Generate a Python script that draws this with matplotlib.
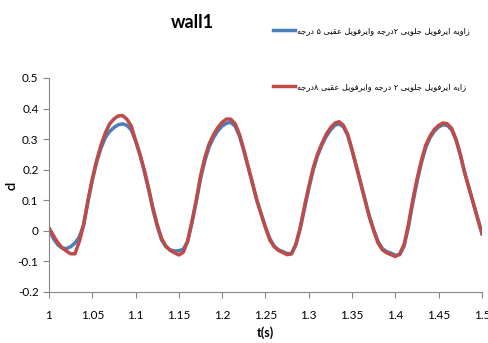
import matplotlib
matplotlib.use("Agg")
import matplotlib.pyplot as plt
import numpy as np

# time axis (s)
t = [1.000, 1.005, 1.010, 1.015, 1.020, 1.025, 1.030, 1.035, 1.040, 1.045,
     1.050, 1.055, 1.060, 1.065, 1.070, 1.075, 1.080, 1.085, 1.090, 1.095,
     1.100, 1.105, 1.110, 1.115, 1.120, 1.125, 1.130, 1.135, 1.140, 1.145,
     1.150, 1.155, 1.160, 1.165, 1.170, 1.175, 1.180, 1.185, 1.190, 1.195,
     1.200, 1.205, 1.210, 1.215, 1.220, 1.225, 1.230, 1.235, 1.240, 1.245,
     1.250, 1.255, 1.260, 1.265, 1.270, 1.275, 1.280, 1.285, 1.290, 1.295,
     1.300, 1.305, 1.310, 1.315, 1.320, 1.325, 1.330, 1.335, 1.340, 1.345,
     1.350, 1.355, 1.360, 1.365, 1.370, 1.375, 1.380, 1.385, 1.390, 1.395,
     1.400, 1.405, 1.410, 1.415, 1.420, 1.425, 1.430, 1.435, 1.440, 1.445,
     1.450, 1.455, 1.460, 1.465, 1.470, 1.475, 1.480, 1.485, 1.490, 1.495,
     1.500]

# cl, rear airfoil at 5 deg
cl_5 = [0.005, -0.025, -0.045, -0.056, -0.058, -0.052, -0.040, -0.020, 0.020, 0.095,
        0.165, 0.225, 0.270, 0.305, 0.325, 0.338, 0.347, 0.350, 0.345, 0.330,
        0.295, 0.250, 0.195, 0.135, 0.070, 0.015, -0.030, -0.052, -0.062, -0.066,
        -0.065, -0.060, -0.035, 0.025, 0.095, 0.170, 0.230, 0.275, 0.305, 0.327,
        0.343, 0.352, 0.355, 0.342, 0.310, 0.262, 0.208, 0.155, 0.100, 0.055,
        0.012, -0.025, -0.050, -0.062, -0.068, -0.074, -0.075, -0.045, 0.005, 0.072,
        0.138, 0.198, 0.245, 0.280, 0.308, 0.330, 0.345, 0.350, 0.340, 0.312,
        0.262, 0.210, 0.155, 0.100, 0.047, 0.003, -0.035, -0.058, -0.068, -0.073,
        -0.080, -0.078, -0.050, 0.012, 0.090, 0.160, 0.222, 0.272, 0.305, 0.326,
        0.340, 0.347, 0.345, 0.330, 0.297, 0.248, 0.190, 0.140, 0.090, 0.040,
        -0.010]

# cl, rear airfoil at 8 deg
cl_8 = [0.010, -0.015, -0.038, -0.055, -0.066, -0.075, -0.075, -0.035, 0.020, 0.100,
        0.170, 0.230, 0.280, 0.320, 0.350, 0.366, 0.376, 0.377, 0.365, 0.343,
        0.295, 0.250, 0.200, 0.140, 0.075, 0.020, -0.025, -0.050, -0.064, -0.072,
        -0.079, -0.070, -0.035, 0.030, 0.100, 0.180, 0.240, 0.285, 0.315, 0.338,
        0.355, 0.366, 0.365, 0.350, 0.315, 0.265, 0.210, 0.155, 0.100, 0.055,
        0.010, -0.030, -0.052, -0.064, -0.071, -0.078, -0.075, -0.045, 0.010, 0.080,
        0.145, 0.205, 0.250, 0.285, 0.315, 0.337, 0.352, 0.357, 0.345, 0.315,
        0.265, 0.210, 0.155, 0.100, 0.045, 0.000, -0.040, -0.062, -0.072, -0.078,
        -0.084, -0.075, -0.045, 0.020, 0.100, 0.170, 0.230, 0.280, 0.310, 0.332,
        0.345, 0.353, 0.350, 0.335, 0.300, 0.250, 0.190, 0.140, 0.090, 0.040,
        -0.008]

label_5 = "زاویه ایرفویل جلویی ۲درجه وایرفویل عقبی ۵ درجه"
label_8 = "زایه ایرفویل جلویی ۲ درجه وایرفویل عقبی ۸درجه"

xticks = [1, 1.05, 1.1, 1.15, 1.2, 1.25, 1.3, 1.35, 1.4, 1.45, 1.5]
xlabels = ["1", "1.05", "1.1", "1.15", "1.2", "1.25", "1.3", "1.35", "1.4", "1.45", "1.5"]
yticks = [-0.2, -0.1, 0, 0.1, 0.2, 0.3, 0.4, 0.5]
ylabels = ["-0.2", "-0.1", "0", "0.1", "0.2", "0.3", "0.4", "0.5"]

# isolated, final, initial, medial presentation forms
FORMS = {
    'ا': ('\uFE8D', '\uFE8E', None, None),
    'ب': ('\uFE8F', '\uFE90', '\uFE91', '\uFE92'),
    'ج': ('\uFE9D', '\uFE9E', '\uFE9F', '\uFEA0'),
    'د': ('\uFEA9', '\uFEAA', None, None),
    'ر': ('\uFEAD', '\uFEAE', None, None),
    'ز': ('\uFEAF', '\uFEB0', None, None),
    'ع': ('\uFEC9', '\uFECA', '\uFECB', '\uFECC'),
    'ف': ('\uFED1', '\uFED2', '\uFED3', '\uFED4'),
    'ق': ('\uFED5', '\uFED6', '\uFED7', '\uFED8'),
    'ل': ('\uFEDD', '\uFEDE', '\uFEDF', '\uFEE0'),
    'ه': ('\uFEE9', '\uFEEA', '\uFEEB', '\uFEEC'),
    'و': ('\uFEED', '\uFEEE', None, None),
    'ی': ('\uFEEF', '\uFEF0', '\uFEF3', '\uFEF4'),
}


def shape(s):
    # join letters and flip for left-to-right drawing
    out = []
    for i, c in enumerate(s):
        if c not in FORMS:
            out.append(c)
            continue
        f = FORMS[c]
        prev = s[i - 1] if i > 0 else ''
        nxt = s[i + 1] if i + 1 < len(s) else ''
        jp = prev in FORMS and FORMS[prev][2] is not None
        jn = nxt in FORMS and f[2] is not None
        if jp and jn:
            out.append(f[3])
        elif jp:
            out.append(f[1])
        elif jn:
            out.append(f[2])
        else:
            out.append(f[0])
    return ''.join(out[::-1])


plt.rcParams['font.family'] = ['Lato', 'DejaVu Sans']

fig = plt.figure(figsize=(4.88, 3.43), dpi=100)
ax = fig.add_axes([0.1004, 0.1487, 0.8873, 0.6239])

ax.plot(t, cl_5, color='#4A7EBB', lw=2.5, label=shape(label_5))
ax.plot(t, cl_8, color='#BE4B48', lw=2.5, label=shape(label_8))

ax.set_xlim(1, 1.5)
ax.set_ylim(-0.2, 0.5)
ax.set_xticks(xticks)
ax.set_xticklabels(xlabels)
ax.set_yticks(yticks)
ax.set_yticklabels(ylabels)

for s in ['top', 'right']:
    ax.spines[s].set_visible(False)
for s in ['left', 'bottom']:
    ax.spines[s].set_color('#868686')
    ax.spines[s].set_linewidth(0.8)
ax.tick_params(colors='#868686', labelcolor='black', labelsize=8.5, length=4, width=0.8)
ax.tick_params(axis='x', pad=9)

ax.set_xlabel('t(s)', fontsize=9, fontweight='bold', labelpad=4)
ax.set_ylabel('cl', fontsize=9, fontweight='bold')
ax.yaxis.set_label_coords(-0.072, 0.5)
fig.text(0.395, 0.935, 'wall1', fontsize=13, fontweight='bold', ha='center', va='center')

# size the legend text so the first label is ~172 px wide
renderer = fig.canvas.get_renderer()
probe = fig.text(0, 0, shape(label_5), family='DejaVu Sans', size=10)
w10 = probe.get_window_extent(renderer).width
probe.remove()
leg_fs = 10 * 172 / w10
fs_px = leg_fs * fig.dpi / 72
row_gap = 57  # px between the two legend rows

leg = ax.legend(loc='upper left', bbox_to_anchor=(0.517, 1.26), frameon=False,
                handlelength=22 / fs_px, handletextpad=2 / fs_px,
                labelspacing=(row_gap - 1.2 * fs_px) / fs_px,
                borderaxespad=0, borderpad=0,
                prop={'family': ['DejaVu Sans'], 'size': leg_fs})
for h in leg.get_lines():
    h.set_linewidth(2.5)

# shift the legend so the blue handle sits at y = 29 px from the top
fig.canvas.draw()
H = fig.bbox.height
y_line = leg.get_lines()[0].get_window_extent(renderer).y0 + 1.25
dy = (H - 29) - y_line
ax_h = ax.get_window_extent(renderer).height
leg.set_bbox_to_anchor((0.517, 1.26 + dy / ax_h), transform=ax.transAxes)

fig.savefig('out.png', dpi=100)
